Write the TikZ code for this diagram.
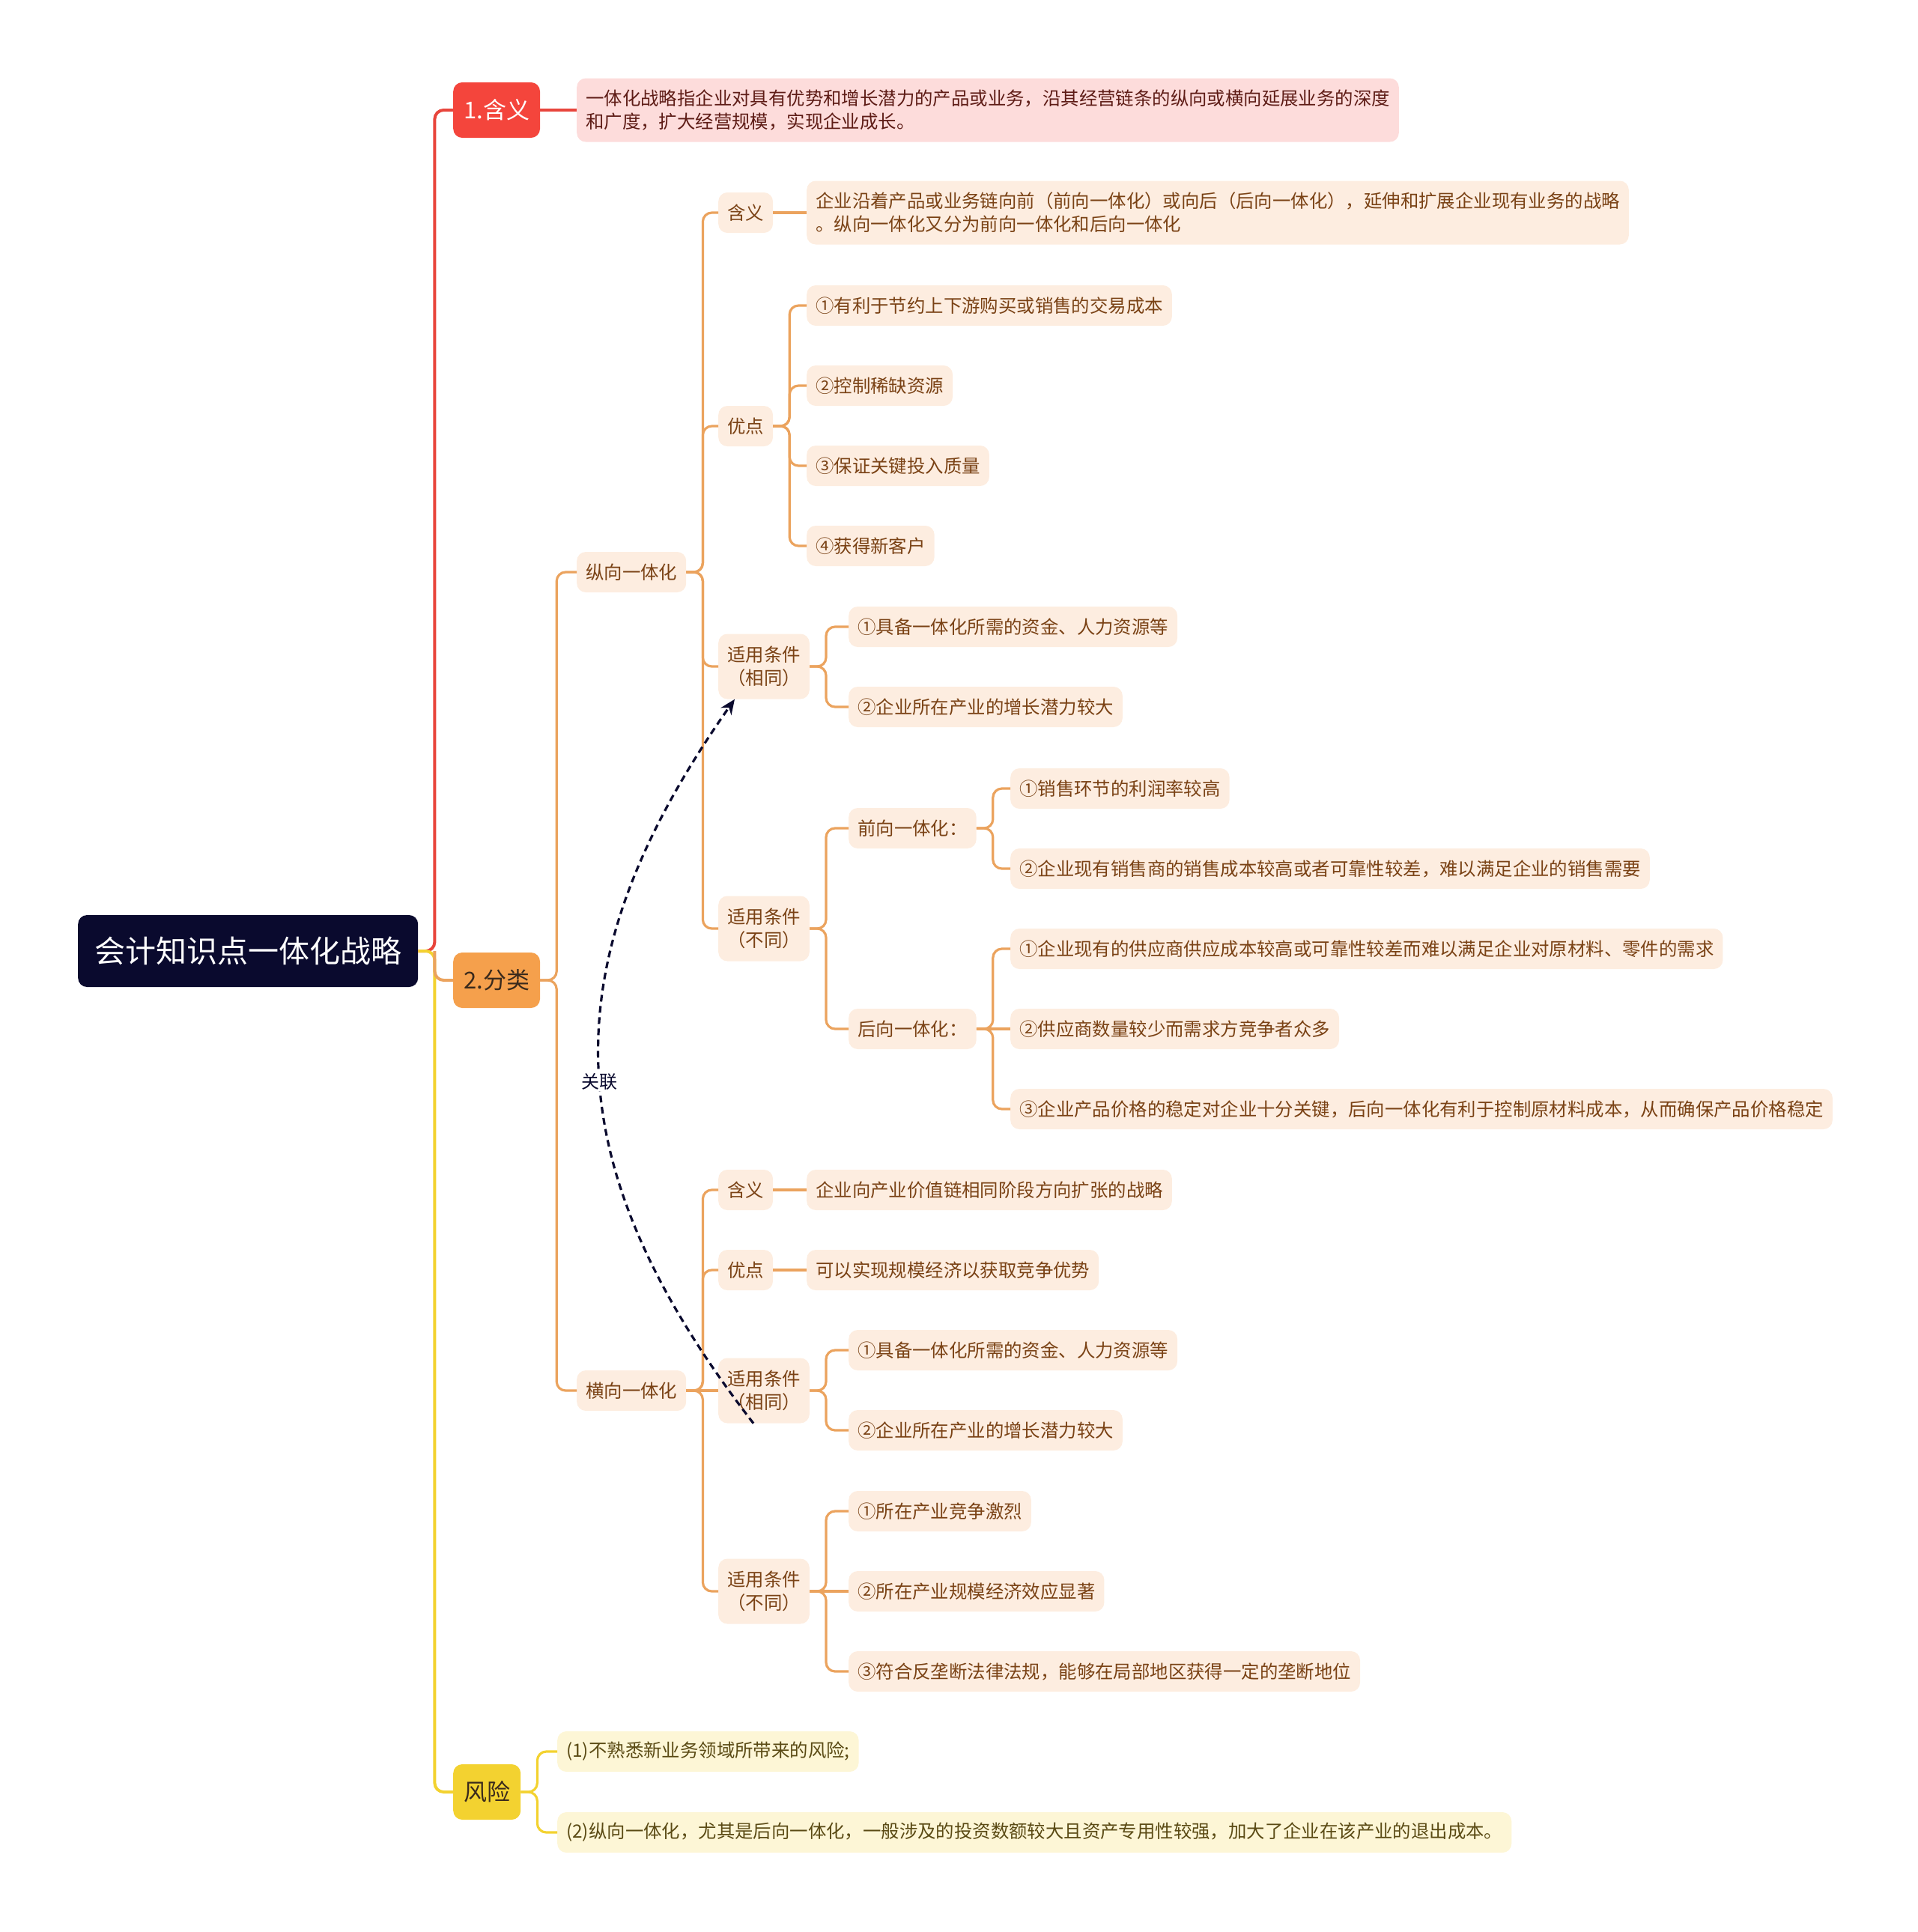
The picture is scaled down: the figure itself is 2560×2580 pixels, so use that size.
\documentclass[tikz,border=0pt]{standalone}
\usepackage{fontspec}
\setmainfont{Noto Sans CJK SC}
\usetikzlibrary{arrows.meta, positioning}
\definecolor{mNavy}{HTML}{0A0A2E}
\definecolor{mRed}{HTML}{F4453C}
\definecolor{mRedLine}{HTML}{E8453C}
\definecolor{mPink}{HTML}{FDDCDB}
\definecolor{mWine}{HTML}{5E1C16}
\definecolor{mOrange}{HTML}{F5A04C}
\definecolor{mTan}{HTML}{EBA35E}
\definecolor{mPeach}{HTML}{FDEDE0}
\definecolor{mBrown}{HTML}{7A4215}
\definecolor{mDark}{HTML}{3A2A1C}
\definecolor{mYellow}{HTML}{F3D230}
\definecolor{mCream}{HTML}{FDF6D6}
\definecolor{mOlive}{HTML}{5A4A14}
\newcommand{\leafsize}{\fontsize{24.4}{31}\selectfont}

\begin{document}
\begin{tikzpicture}[x=1pt, y=-1pt,
    leafbox/.style={rounded corners=12, inner xsep=12, inner ysep=0, minimum height=54,
      font=\leafsize, text=mBrown, fill=mPeach, anchor=west},
    twobox/.style={leafbox, align=center, minimum height=87},
    notebox/.style={leafbox, align=left, minimum height=85},
    headbox/.style={rounded corners=12, inner xsep=14, inner ysep=0, minimum height=74,
      font=\fontsize{31}{36}\selectfont, anchor=west},
    riskbox/.style={leafbox, fill=mCream, text=mOlive},
    br/.style={draw=mTan, line width=3.2, rounded corners=12},
    link/.style={draw=mNavy, line width=3.2, dash pattern=on 9 off 6, -{Stealth[length=20, width=17]}}]
  \useasboundingbox (0,0) rectangle (2560,2580);

  % root and first level
  \node[rounded corners=12, fill=mNavy, text=white, font=\fontsize{41}{48}\selectfont,
    minimum height=96, inner xsep=22, anchor=west] (root) at (104,1270) {会计知识点一体化战略};
  \node[headbox, fill=mRed, text=white] (mean) at (605,147) {1.含义};
  \node[headbox, fill=mOrange, text=mDark] (kind) at (605,1309) {2.分类};
  \node[headbox, fill=mYellow, text=mDark] (risk) at (605,2393) {风险};

  \node[notebox, fill=mPink, text=mWine] (meanT) at (770,147)
    {一体化战略指企业对具有优势和增长潜力的产品或业务，沿其经营链条的纵向或横向延展业务的深度\\和广度，扩大经营规模，实现企业成长。};

  % vertical integration
  \node[leafbox] (zx) at (770,764) {纵向一体化};
  \node[leafbox] (zmean) at (959,284) {含义};
  \node[notebox] (zmeanT) at (1077,284)
    {企业沿着产品或业务链向前（前向一体化）或向后（后向一体化），延伸和扩展企业现有业务的战略\\。纵向一体化又分为前向一体化和后向一体化};
  \node[leafbox] (zgood) at (959,569) {优点};
  \node[leafbox] (zg1) at (1077,408) {①有利于节约上下游购买或销售的交易成本};
  \node[leafbox] (zg2) at (1077,515) {②控制稀缺资源};
  \node[leafbox] (zg3) at (1077,622) {③保证关键投入质量};
  \node[leafbox] (zg4) at (1077,729) {④获得新客户};
  \node[twobox] (zsame) at (959,890) {适用条件\\（相同）};
  \node[leafbox] (zs1) at (1133,837) {①具备一体化所需的资金、人力资源等};
  \node[leafbox] (zs2) at (1133,944) {②企业所在产业的增长潜力较大};
  \node[twobox] (zdiff) at (959,1240) {适用条件\\（不同）};
  \node[leafbox] (zf) at (1133,1106) {前向一体化：};
  \node[leafbox] (zf1) at (1349,1053) {①销售环节的利润率较高};
  \node[leafbox] (zf2) at (1349,1160) {②企业现有销售商的销售成本较高或者可靠性较差，难以满足企业的销售需要};
  \node[leafbox] (zb) at (1133,1374) {后向一体化：};
  \node[leafbox] (zb1) at (1349,1267) {①企业现有的供应商供应成本较高或可靠性较差而难以满足企业对原材料、零件的需求};
  \node[leafbox] (zb2) at (1349,1374) {②供应商数量较少而需求方竞争者众多};
  \node[leafbox] (zb3) at (1349,1481) {③企业产品价格的稳定对企业十分关键，后向一体化有利于控制原材料成本，从而确保产品价格稳定};

  % horizontal integration
  \node[leafbox] (hx) at (770,1857) {横向一体化};
  \node[leafbox] (hmean) at (959,1589) {含义};
  \node[leafbox] (hmeanT) at (1077,1589) {企业向产业价值链相同阶段方向扩张的战略};
  \node[leafbox] (hgood) at (959,1696) {优点};
  \node[leafbox] (hgoodT) at (1077,1696) {可以实现规模经济以获取竞争优势};
  \node[twobox] (hsame) at (959,1857) {适用条件\\（相同）};
  \node[leafbox] (hs1) at (1133,1803) {①具备一体化所需的资金、人力资源等};
  \node[leafbox] (hs2) at (1133,1910) {②企业所在产业的增长潜力较大};
  \node[twobox] (hdiff) at (959,2125) {适用条件\\（不同）};
  \node[leafbox] (hd1) at (1133,2018) {①所在产业竞争激烈};
  \node[leafbox] (hd2) at (1133,2125) {②所在产业规模经济效应显著};
  \node[leafbox] (hd3) at (1133,2232) {③符合反垄断法律法规，能够在局部地区获得一定的垄断地位};

  % risks
  \node[riskbox] (r1) at (744,2339) {(1)不熟悉新业务领域所带来的风险;};
  \node[riskbox] (r2) at (744,2447) {(2)纵向一体化，尤其是后向一体化，一般涉及的投资数额较大且资产专用性较强，加大了企业在该产业的退出成本。};

  % main branches
  \draw[draw=mRedLine, line width=4, rounded corners=12] (root.east) -- ++(22,0) |- (mean.west);
  \draw[draw=mRedLine, line width=4] (mean.east) -- (meanT.west);
  \draw[draw=mYellow, line width=4, rounded corners=12] (root.east) -- ++(22,0) |- (risk.west);
  \draw[draw=mTan, line width=4, rounded corners=12] (root.east) ++(22,0) |- (kind.west);
  \foreach \c in {r1,r2}
    \draw[draw=mYellow, line width=3.2, rounded corners=12] (risk.east) -- ++(22,0) |- (\c.west);

  % sub branches
  \foreach \c in {zx,hx} \draw[br] (kind.east) -- ++(22,0) |- (\c.west);
  \foreach \c in {zmean,zgood,zsame,zdiff} \draw[br] (zx.east) -- ++(22,0) |- (\c.west);
  \draw[br] (zmean.east) -- (zmeanT.west);
  \foreach \c in {zg1,zg2,zg3,zg4} \draw[br] (zgood.east) -- ++(22,0) |- (\c.west);
  \foreach \c in {zs1,zs2} \draw[br] (zsame.east) -- ++(22,0) |- (\c.west);
  \foreach \c in {zf,zb} \draw[br] (zdiff.east) -- ++(22,0) |- (\c.west);
  \foreach \c in {zf1,zf2} \draw[br] (zf.east) -- ++(22,0) |- (\c.west);
  \foreach \c in {zb1,zb3} \draw[br] (zb.east) -- ++(22,0) |- (\c.west);
  \draw[br] (zb.east) -- (zb2.west);
  \foreach \c in {hmean,hgood,hdiff} \draw[br] (hx.east) -- ++(22,0) |- (\c.west);
  \draw[br] (hx.east) -- (hsame.west);
  \draw[br] (hmean.east) -- (hmeanT.west);
  \draw[br] (hgood.east) -- (hgoodT.west);
  \foreach \c in {hs1,hs2} \draw[br] (hsame.east) -- ++(22,0) |- (\c.west);
  \foreach \c in {hd1,hd3} \draw[br] (hdiff.east) -- ++(22,0) |- (\c.west);
  \draw[br] (hdiff.east) -- (hd2.west);

  % relation
  \draw[link] ([xshift=-14]hsame.south) .. controls (735,1550) and (735,1284) .. ([xshift=-39]zsame.south)
    node[pos=0.47, fill=white, inner sep=1, text=mNavy, font=\fontsize{24}{28}\selectfont] (rel) {关联};
\end{tikzpicture}
\end{document}
